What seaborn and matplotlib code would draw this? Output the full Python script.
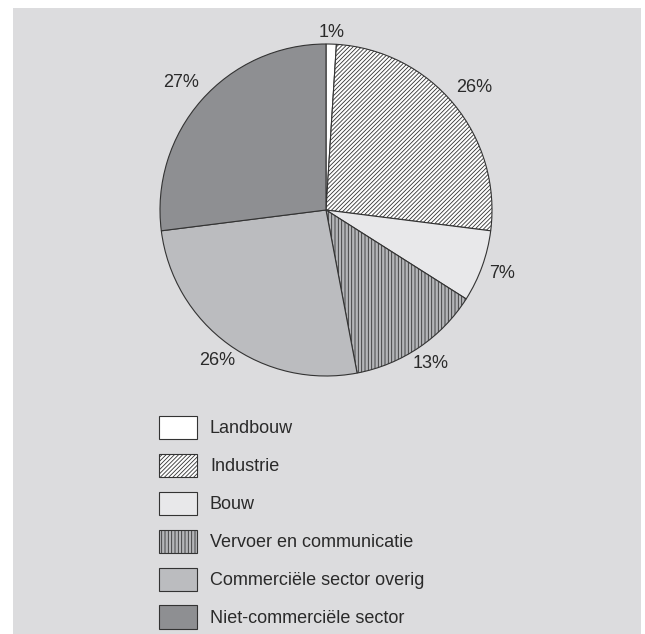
import matplotlib
matplotlib.use("Agg")
import matplotlib.pyplot as plt
import seaborn as sns
import numpy as np
from matplotlib.patches import Rectangle

categories = ["Landbouw", "Industrie", "Bouw", "Vervoer en communicatie",
              "Commerciële sector overig", "Niet-commerciële sector"]
values = [1, 26, 7, 13, 26, 27]
labels = ["1%", "26%", "7%", "13%", "26%", "27%"]

colors = ["#ffffff", "#ffffff", "#e8e8ea", "#b4b5b8", "#bbbcbf", "#8e8f92"]
hatches = [None, "////////", None, "|||||", None, None]
label_dist = [1.07, 1.16, 1.13, 1.12, 1.12, 1.16]

sns.set_style("white")
plt.rcParams['font.family'] = ['Liberation Sans', 'DejaVu Sans']
plt.rcParams['hatch.linewidth'] = 0.6

fig = plt.figure(figsize=(6.45, 6.34), dpi=100, facecolor="white")
W, H = 645, 634
fig.patches.append(Rectangle((13 / W, 0), (641 - 13) / W, (634 - 8) / H,
                             transform=fig.transFigure, facecolor="#dcdcde",
                             edgecolor="none", zorder=-10))

cx, cy, r = 326, 210, 166
ax = fig.add_axes([(cx - r) / W, (H - cy - r) / H, 2 * r / W, 2 * r / H])
ax.set_zorder(5)
ax.set_facecolor("none")
wedges, _ = ax.pie(values, colors=colors, startangle=90, counterclock=False,
                   wedgeprops=dict(edgecolor="#333333", linewidth=0.8))
for w, h in zip(wedges, hatches):
    if h:
        w.set_hatch(h)
ax.set_xlim(-1, 1)
ax.set_ylim(-1, 1)
ax.set_aspect("equal")
ax.axis("off")

for w, lab, d in zip(wedges, labels, label_dist):
    ang = np.deg2rad((w.theta1 + w.theta2) / 2)
    ax.text(d * np.cos(ang), d * np.sin(ang), lab, ha="center", va="center",
            fontsize=13, color="#2a2a2a", clip_on=False)

leg = fig.legend(wedges, categories, loc="upper left",
                 bbox_to_anchor=(159 / W, 1 - 416 / H), frameon=False,
                 fontsize=13, handlelength=2.1, handleheight=1.59,
                 labelspacing=0.82, handletextpad=0.72, borderpad=0,
                 borderaxespad=0)
leg.set_zorder(6)
for t in leg.get_texts():
    t.set_color("#2a2a2a")

fig.savefig("out.png", dpi=100, facecolor="white")
